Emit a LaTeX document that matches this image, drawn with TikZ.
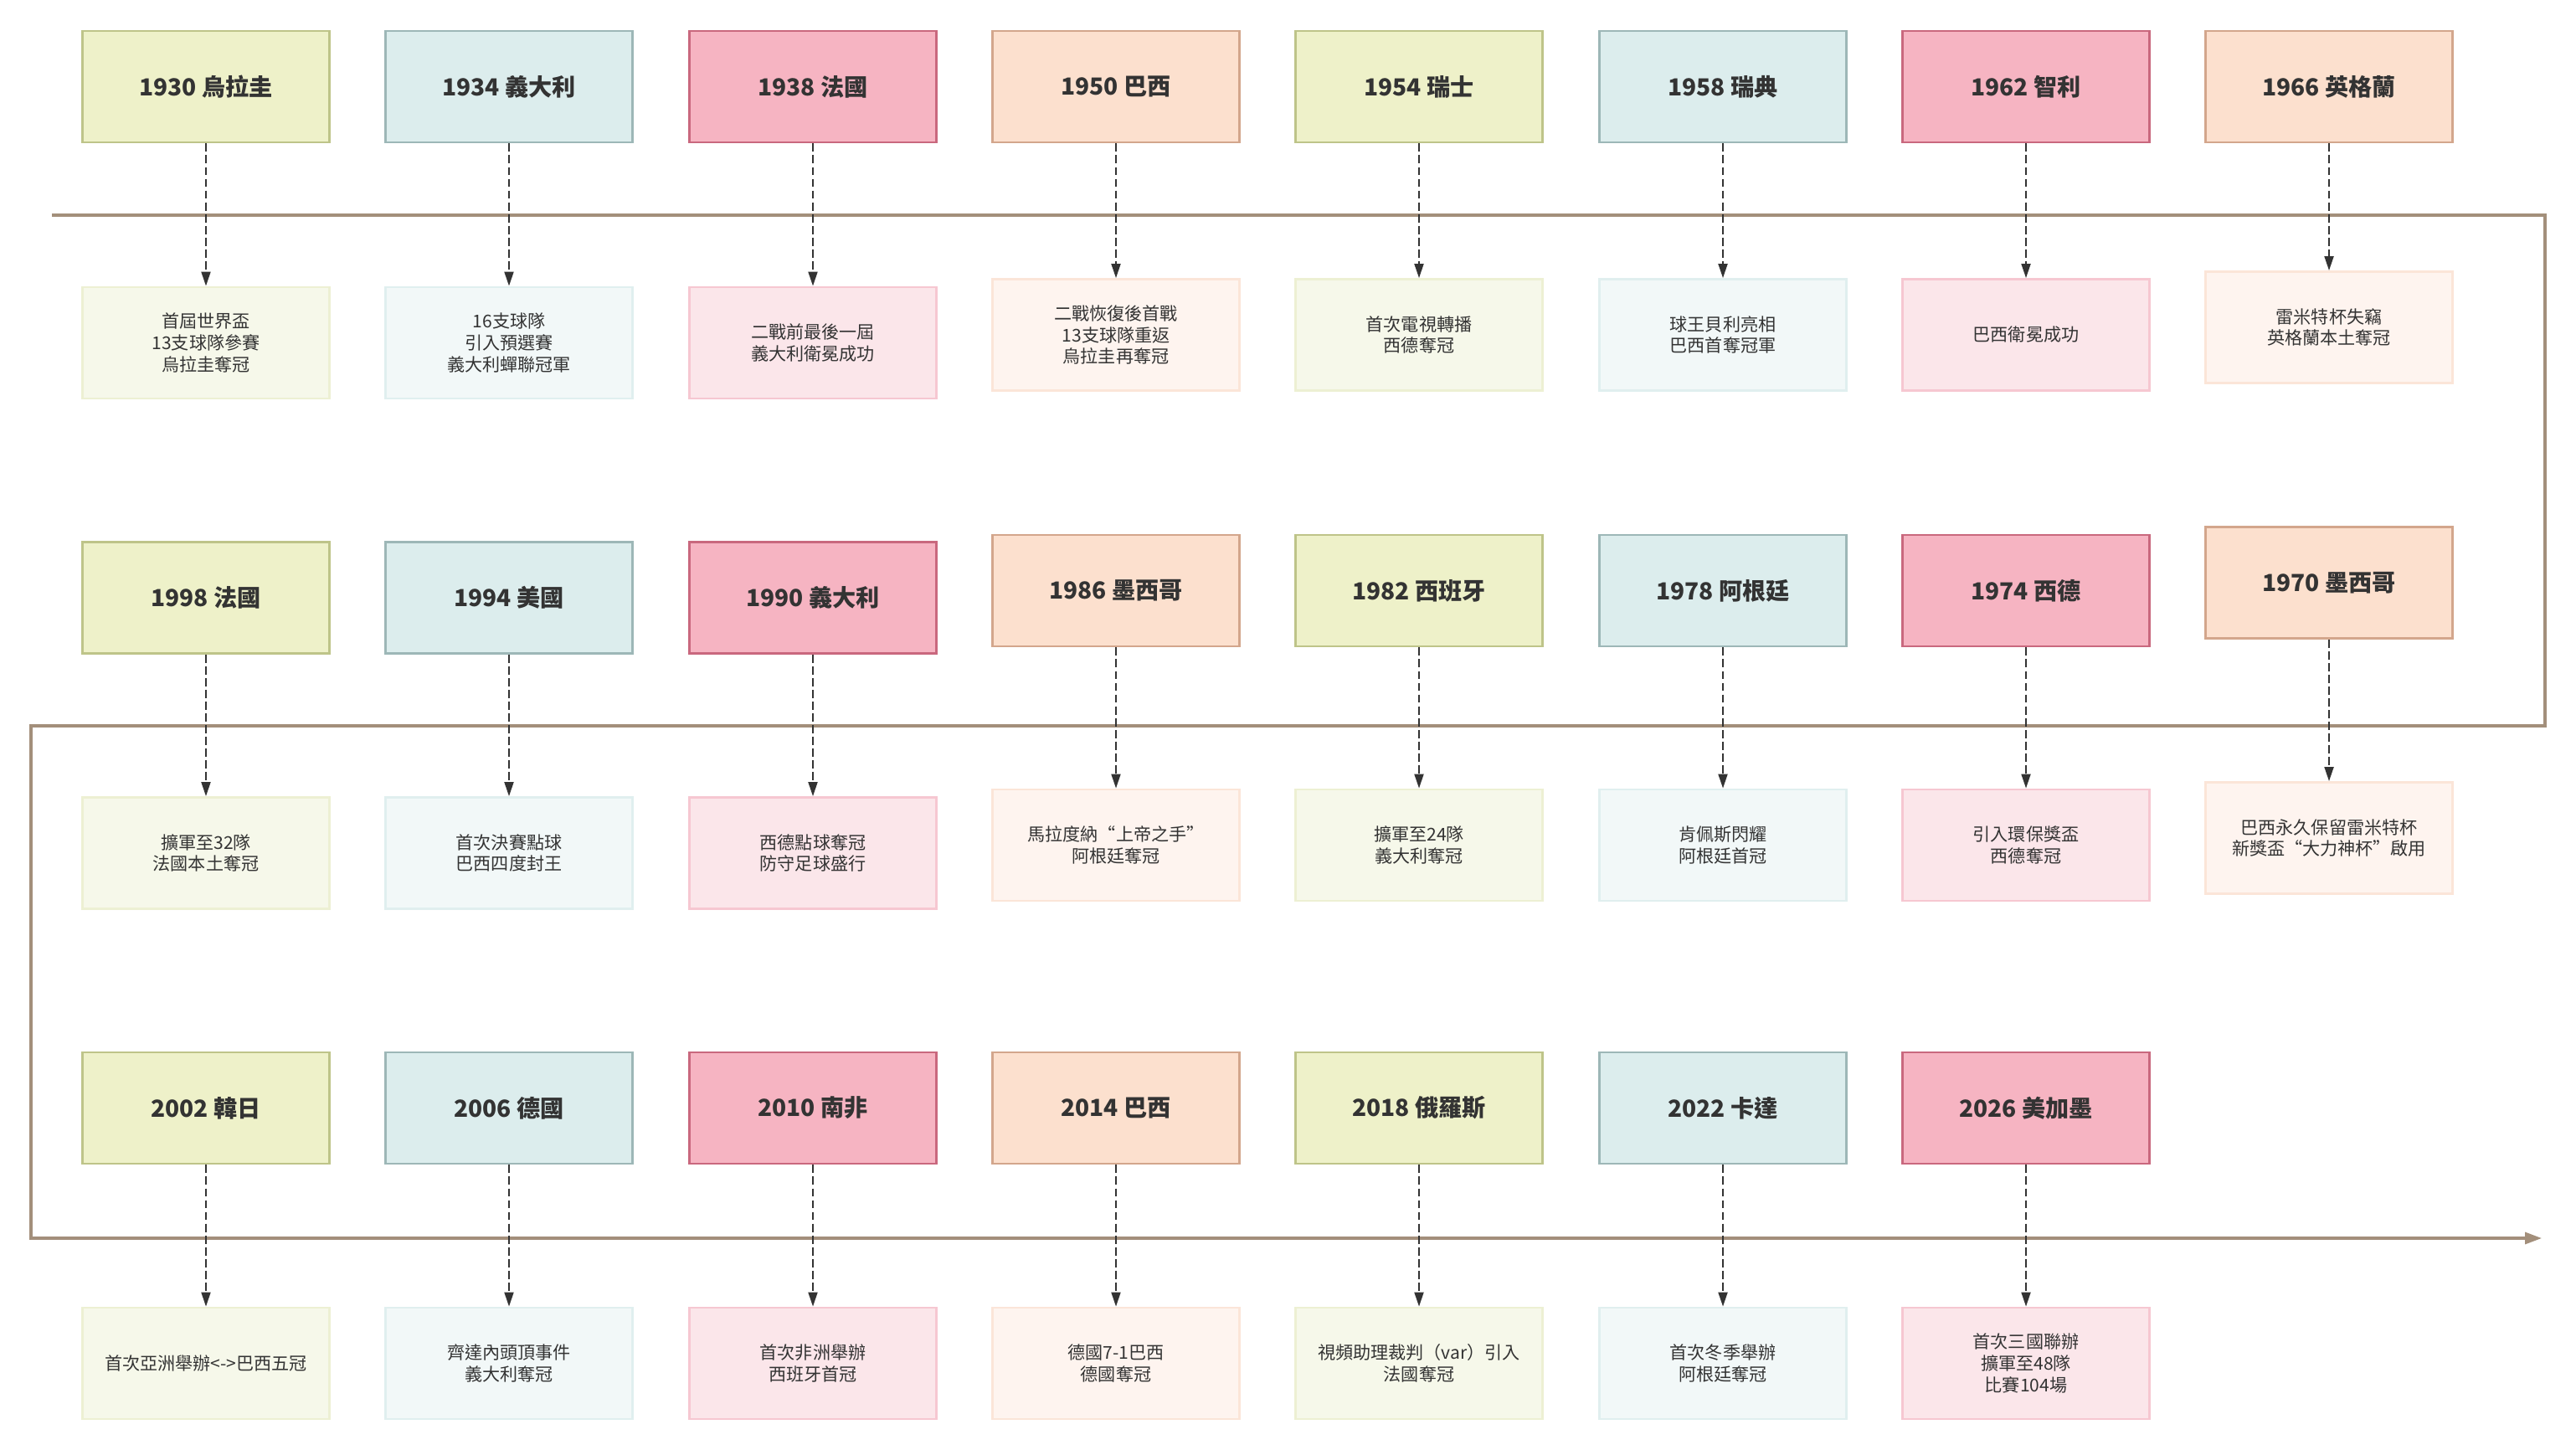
\documentclass[tikz,border=0pt]{standalone}
\usepackage{fontspec}
\setmainfont{Noto Sans CJK TC}
\usepackage{tikz}
\usetikzlibrary{arrows.meta}

\definecolor{txt}{HTML}{333333}
\definecolor{axisline}{HTML}{A38F7B}
\definecolor{gfill}{HTML}{EEF1C9}
\definecolor{gline}{HTML}{BEC489}
\definecolor{bfill}{HTML}{DCEDED}
\definecolor{bline}{HTML}{9DB7B7}
\definecolor{rfill}{HTML}{F6B4C2}
\definecolor{rline}{HTML}{C9687E}
\definecolor{ofill}{HTML}{FCE0CE}
\definecolor{oline}{HTML}{D3A68C}
\definecolor{gdfill}{HTML}{F6F8EA}
\definecolor{gdline}{HTML}{EDF0D3}
\definecolor{bdfill}{HTML}{F2F8F8}
\definecolor{bdline}{HTML}{E0EFEF}
\definecolor{rdfill}{HTML}{FBE6EA}
\definecolor{rdline}{HTML}{F6C7D1}
\definecolor{odfill}{HTML}{FEF4EF}
\definecolor{odline}{HTML}{FBE5D8}

\begin{document}
\begin{tikzpicture}[
  year/.style={rectangle, draw, line width=0.8pt, minimum width=2.95cm, minimum height=1.33cm,
    inner sep=0pt, text=txt, font=\bfseries\fontsize{8}{9.6}\selectfont},
  gy/.style={year, fill=gfill, draw=gline},
  by/.style={year, fill=bfill, draw=bline},
  ry/.style={year, fill=rfill, draw=rline},
  oy/.style={year, fill=ofill, draw=oline},
  desc/.style={rectangle, draw, line width=0.8pt, minimum width=2.95cm, minimum height=1.33cm,
    inner sep=0pt, align=center, text=txt, font=\fontsize{6}{7.3}\selectfont},
  gd/.style={desc, fill=gdfill, draw=gdline},
  bd/.style={desc, fill=bdfill, draw=bdline},
  rd/.style={desc, fill=rdfill, draw=rdline},
  od/.style={desc, fill=odfill, draw=odline},
  link/.style={->, draw=txt, line width=0.55pt, dash pattern=on 2.8pt off 1.2pt},
  axis/.style={draw=axisline, line width=0.9pt},
  >={Triangle[length=1.7mm, width=1.1mm]}
]
\useasboundingbox (0,0) rectangle (30.77,-17.32);

% timeline
\coordinate (t0) at (0.62,-2.57);
\coordinate (t1) at (30.40,-2.57);
\coordinate (t2) at (30.40,-8.67);
\coordinate (t3) at (0.37,-8.67);
\coordinate (t4) at (0.37,-14.79);
\coordinate (t5) at (30.36,-14.79);
\draw[axis, -{Triangle[length=2mm, width=1.4mm]}] (t0) -- (t1) -- (t2) -- (t3) -- (t4) -- (t5);

% row 1
\node[gy] (y1930) at (2.46,-1.035) {1930 烏拉圭};
\node[by] (y1934) at (6.08,-1.035) {1934 義大利};
\node[ry] (y1938) at (9.71,-1.035) {1938 法國};
\node[oy] (y1950) at (13.33,-1.035) {1950 巴西};
\node[gy] (y1954) at (16.95,-1.035) {1954 瑞士};
\node[by] (y1958) at (20.58,-1.035) {1958 瑞典};
\node[ry] (y1962) at (24.20,-1.035) {1962 智利};
\node[oy] (y1966) at (27.82,-1.035) {1966 英格蘭};

\node[gd] (d1930) at (2.46,-4.095) {首屆世界盃\\13支球隊參賽\\烏拉圭奪冠};
\node[bd] (d1934) at (6.08,-4.095) {16支球隊\\引入預選賽\\義大利蟬聯冠軍};
\node[rd] (d1938) at (9.71,-4.095) {二戰前最後一屆\\義大利衛冕成功};
\node[od] (d1950) at (13.33,-4.00) {二戰恢復後首戰\\13支球隊重返\\烏拉圭再奪冠};
\node[gd] (d1954) at (16.95,-4.00) {首次電視轉播\\西德奪冠};
\node[bd] (d1958) at (20.58,-4.00) {球王貝利亮相\\巴西首奪冠軍};
\node[rd] (d1962) at (24.20,-4.00) {巴西衛冕成功};
\node[od] (d1966) at (27.82,-3.91) {雷米特杯失竊\\英格蘭本土奪冠};

\draw[link] (y1930) -- (d1930);
\draw[link] (y1934) -- (d1934);
\draw[link] (y1938) -- (d1938);
\draw[link] (y1950) -- (d1950);
\draw[link] (y1954) -- (d1954);
\draw[link] (y1958) -- (d1958);
\draw[link] (y1962) -- (d1962);
\draw[link] (y1966) -- (d1966);

% row 2
\node[gy] (y1998) at (2.46,-7.14) {1998 法國};
\node[by] (y1994) at (6.08,-7.14) {1994 美國};
\node[ry] (y1990) at (9.71,-7.14) {1990 義大利};
\node[oy] (y1986) at (13.33,-7.055) {1986 墨西哥};
\node[gy] (y1982) at (16.95,-7.055) {1982 西班牙};
\node[by] (y1978) at (20.58,-7.055) {1978 阿根廷};
\node[ry] (y1974) at (24.20,-7.055) {1974 西德};
\node[oy] (y1970) at (27.82,-6.96) {1970 墨西哥};

\node[gd] (d1998) at (2.46,-10.19) {擴軍至32隊\\法國本土奪冠};
\node[bd] (d1994) at (6.08,-10.19) {首次決賽點球\\巴西四度封王};
\node[rd] (d1990) at (9.71,-10.19) {西德點球奪冠\\防守足球盛行};
\node[od] (d1986) at (13.33,-10.095) {馬拉度納“上帝之手”\\阿根廷奪冠};
\node[gd] (d1982) at (16.95,-10.095) {擴軍至24隊\\義大利奪冠};
\node[bd] (d1978) at (20.58,-10.095) {肯佩斯閃耀\\阿根廷首冠};
\node[rd] (d1974) at (24.20,-10.095) {引入環保獎盃\\西德奪冠};
\node[od] (d1970) at (27.82,-10.01) {巴西永久保留雷米特杯\\新獎盃“大力神杯”啟用};

\draw[link] (y1998) -- (d1998);
\draw[link] (y1994) -- (d1994);
\draw[link] (y1990) -- (d1990);
\draw[link] (y1986) -- (d1986);
\draw[link] (y1982) -- (d1982);
\draw[link] (y1978) -- (d1978);
\draw[link] (y1974) -- (d1974);
\draw[link] (y1970) -- (d1970);

% row 3
\node[gy] (y2002) at (2.46,-13.235) {2002 韓日};
\node[by] (y2006) at (6.08,-13.235) {2006 德國};
\node[ry] (y2010) at (9.71,-13.235) {2010 南非};
\node[oy] (y2014) at (13.33,-13.235) {2014 巴西};
\node[gy] (y2018) at (16.95,-13.235) {2018 俄羅斯};
\node[by] (y2022) at (20.58,-13.235) {2022 卡達};
\node[ry] (y2026) at (24.20,-13.235) {2026 美加墨};

\node[gd] (d2002) at (2.46,-16.285) {首次亞洲舉辦<->巴西五冠};
\node[bd] (d2006) at (6.08,-16.285) {齊達內頭頂事件\\義大利奪冠};
\node[rd] (d2010) at (9.71,-16.285) {首次非洲舉辦\\西班牙首冠};
\node[od] (d2014) at (13.33,-16.285) {德國7-1巴西\\德國奪冠};
\node[gd] (d2018) at (16.95,-16.285) {視頻助理裁判（var）引入\\法國奪冠};
\node[bd] (d2022) at (20.58,-16.285) {首次冬季舉辦\\阿根廷奪冠};
\node[rd] (d2026) at (24.20,-16.285) {首次三國聯辦\\擴軍至48隊\\比賽104場};

\draw[link] (y2002) -- (d2002);
\draw[link] (y2006) -- (d2006);
\draw[link] (y2010) -- (d2010);
\draw[link] (y2014) -- (d2014);
\draw[link] (y2018) -- (d2018);
\draw[link] (y2022) -- (d2022);
\draw[link] (y2026) -- (d2026);
\end{tikzpicture}
\end{document}
